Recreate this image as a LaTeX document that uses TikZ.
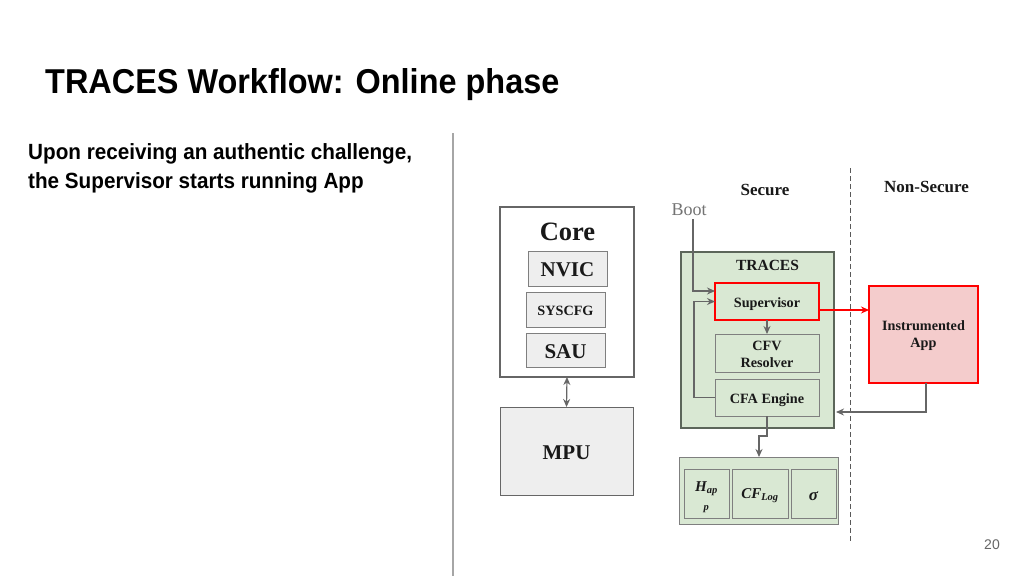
\documentclass[tikz,border=0pt]{standalone}
\usepackage{fontspec}
\setmainfont{Liberation Serif}
\newfontfamily\slidefont{Liberation Sans}
\newfontfamily\headfont[FakeStretch=0.94]{Liberation Sans}
\usetikzlibrary{positioning}
\usetikzlibrary{calc}
\usetikzlibrary{arrows.meta}
\definecolor{box-green}{HTML}{D9E8D3}
\definecolor{box-gray}{HTML}{EEEEEE}
\definecolor{box-red}{HTML}{F4CCCC}
\definecolor{line-gray}{HTML}{666666}
\definecolor{thin-gray}{HTML}{7F7F7F}
\definecolor{frame-green}{HTML}{5C665A}
\tikzset{
  plainbox/.style={draw=thin-gray,line width=1pt,outer sep=0pt,inner sep=0pt,align=center,font=\bfseries,
    text=black!90},
  graybox/.style={plainbox,fill=box-gray},
  greenbox/.style={plainbox,fill=box-green},
  redbox/.style={plainbox,draw=red,line width=2pt},
  wire/.style={draw=line-gray,line width=1.2pt,-{Stealth[length=8pt,width=7pt]}},
  caption/.style={font=\bfseries\fontsize{17}{20}\selectfont,text=black!90},
}
\newcommand{\smalltext}{\fontsize{14.2}{17}\selectfont}
\newcommand{\bigtext}{\fontsize{21}{24}\selectfont}
\newcommand{\pad}[1]{\rule{0pt}{#1pt}}
\begin{document}
\begin{tikzpicture}[x=1pt,y=-1pt]
\useasboundingbox (0,0) rectangle (1024,576);
\fill[white] (0,0) rectangle (1024,576);
% slide text
\node[anchor=west,inner sep=0pt,font=\headfont\bfseries\fontsize{34.5}{38}\selectfont] (title) at (45,84.5) {TRACES Workflow: Online phase};
\node[anchor=north west,inner sep=0pt,align=left,font=\headfont\bfseries\fontsize{22}{29}\selectfont] (intro) at (28,143) {Upon receiving an authentic challenge,\\the Supervisor starts running App};
\node[font=\slidefont\fontsize{14}{16}\selectfont,text=black!60] (pagenum) at (992,544.5) {20};
\coordinate (dividertop) at (453,133);
\coordinate (dividerend) at (453,576);
\draw[line width=1.4pt,draw=black!35] (dividertop) -- (dividerend);
% left column
\node[plainbox,draw=line-gray,line width=2.2pt,minimum width=134,minimum height=170] (core) at (567,292) {};
\node[font=\bfseries\fontsize{26.5}{30}\selectfont,text=black!90] (corelabel) at (567.5,232) {Core};
\node[graybox,minimum width=79,minimum height=35,font=\bfseries\bigtext] (nvic) at (567.5,268.5) {\pad{16}NVIC};
\node[graybox,minimum width=79,minimum height=35,font=\bfseries\smalltext] (syscfg) at (565.5,309.5) {\pad{11.5}SYSCFG};
\node[graybox,minimum width=79,minimum height=34,font=\bfseries\bigtext] (sau) at (565.5,350.5) {\pad{16}SAU};
\node[graybox,draw=line-gray,minimum width=133,minimum height=88,font=\bfseries\bigtext] (mpu) at (566.5,451) {\pad{18}MPU};
\draw[wire,{Stealth[length=8pt,width=7pt]}-{Stealth[length=8pt,width=7pt]}] (core.south) -- (mpu.north);
% right column
\coordinate (splittop) at (850,168);
\coordinate (splitend) at (850,542);
\draw[draw=black!65,line width=0.9pt,dash pattern=on 5pt off 3pt] (splittop) -- (splitend);
\node[caption] (secure) at (765,189.5) {Secure};
\node[caption] (nonsecure) at (926.5,187) {Non-Secure};
\node[font=\fontsize{18}{20}\selectfont,text=black!55] (boot) at (689,209.5) {Boot};
\node[greenbox,draw=frame-green,line width=2.4pt,minimum width=153,minimum height=176] (traces) at (757.5,340) {};
\node[font=\bfseries\fontsize{15.5}{18}\selectfont,text=black!90] (traceslabel) at (767.5,265.5) {TRACES};
\node[redbox,fill=box-green,minimum width=104,minimum height=37,font=\bfseries\smalltext] (supervisor) at (767,301.5) {\pad{16}Supervisor};
\node[greenbox,minimum width=104,minimum height=38,font=\bfseries\smalltext] (resolver) at (767,353) {\pad{11.5}CFV\\Resolver};
\node[greenbox,minimum width=104,minimum height=37,font=\bfseries\smalltext] (engine) at (767,397.5) {\pad{15}CFA Engine};
\node[redbox,fill=box-red,minimum width=109,minimum height=97,font=\bfseries\smalltext] (instrumented) at (923.5,334.5) {\pad{11.5}Instrumented\\App};
% log memory
\node[greenbox,minimum width=159,minimum height=67] (memory) at (758.5,490.5) {};
\node[greenbox,minimum width=45,minimum height=49,font=\bfseries\itshape\fontsize{15}{17}\selectfont] (hap) at (706.5,493.5) {\pad{18}H\textsubscript{ap}\\[0pt]\textsubscript{p}};
\node[greenbox,minimum width=56,minimum height=49,font=\bfseries\itshape\fontsize{15}{17}\selectfont] (cflog) at (760,493.5) {\pad{14}CF\textsubscript{Log}};
\node[greenbox,minimum width=45,minimum height=49,font=\bfseries\itshape\fontsize{17}{17}\selectfont] (sigma) at (813.5,493.5) {\pad{14}σ};
% connectors
\coordinate (bootin) at ($(supervisor.west)+(0,-10.5)$);
\coordinate (loopin) at ($(supervisor.west)+(0,0)$);
\coordinate (runout) at ($(supervisor.east)+(0,8.5)$);
\coordinate (attest) at ($(traces.east)+(2,72)$);
\coordinate (attestout) at ($(instrumented.south)+(2.5,0)$);
\draw[wire] (boot.south -| 693,0) |- (bootin);
\draw[wire] (engine.west) -- (694,397.5) |- (loopin);
\draw[wire] (supervisor.south) -- (resolver.north);
\draw[wire,draw=red,line width=2.2pt] (runout) -- (runout -| instrumented.west);
\draw[wire] (attestout) |- (attest);
\draw[wire,line width=1.5pt] (engine.south) -- (767,436) -- (759,436) -- (memory.north -| 759,0);
\end{tikzpicture}
\end{document}
